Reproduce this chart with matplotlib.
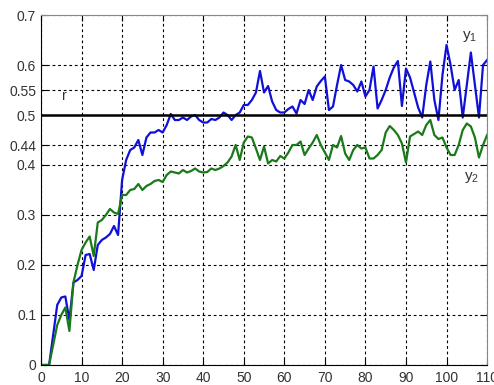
import matplotlib
matplotlib.use('Agg')
import matplotlib.pyplot as plt

plt.rcParams['font.family'] = ['Liberation Sans', 'DejaVu Sans']
plt.rcParams['mathtext.fontset'] = 'custom'
plt.rcParams['mathtext.rm'] = 'Liberation Sans'

# time steps
t = list(range(0, 111))

# output y1 (blue)
y1 = [0, 0, 0, 0.06, 0.12, 0.135, 0.137, 0.09, 0.165, 0.17,
      0.178, 0.22, 0.222, 0.19, 0.24, 0.25, 0.255, 0.262, 0.278, 0.26,
      0.37, 0.41, 0.43, 0.435, 0.45, 0.42, 0.455, 0.465, 0.465, 0.47,
      0.465, 0.48, 0.502, 0.49, 0.49, 0.495, 0.49, 0.497, 0.5, 0.49,
      0.485, 0.485, 0.492, 0.49, 0.495, 0.505, 0.5, 0.49, 0.5, 0.505,
      0.52, 0.52, 0.53, 0.545, 0.588, 0.545, 0.558, 0.527, 0.51, 0.505,
      0.505, 0.512, 0.517, 0.503, 0.53, 0.522, 0.55, 0.53, 0.557, 0.568,
      0.577, 0.51, 0.517, 0.56, 0.6, 0.57, 0.567, 0.56, 0.547, 0.567,
      0.537, 0.55, 0.597, 0.513, 0.53, 0.55, 0.575, 0.595, 0.608, 0.518,
      0.593, 0.575, 0.545, 0.515, 0.495, 0.56, 0.607, 0.53, 0.49, 0.58,
      0.64, 0.6, 0.55, 0.57, 0.495, 0.56, 0.625, 0.56, 0.495, 0.6,
      0.61]

# output y2 (green)
y2 = [0, 0, 0, 0.04, 0.08, 0.1, 0.115, 0.068, 0.165, 0.2,
      0.23, 0.245, 0.257, 0.218, 0.285, 0.29, 0.3, 0.312, 0.305, 0.302,
      0.34, 0.34, 0.35, 0.352, 0.362, 0.35, 0.358, 0.362, 0.368, 0.37,
      0.366, 0.38, 0.387, 0.385, 0.383, 0.39, 0.385, 0.388, 0.393, 0.387,
      0.385, 0.386, 0.393, 0.39, 0.393, 0.398, 0.405, 0.417, 0.44, 0.41,
      0.445, 0.457, 0.455, 0.433, 0.41, 0.437, 0.403, 0.41, 0.407, 0.418,
      0.413, 0.425, 0.44, 0.44, 0.447, 0.42, 0.433, 0.445, 0.46, 0.44,
      0.425, 0.41, 0.44, 0.435, 0.458, 0.423, 0.41, 0.43, 0.44, 0.433,
      0.435, 0.413, 0.413, 0.42, 0.43, 0.465, 0.478, 0.47, 0.46, 0.443,
      0.405, 0.457, 0.462, 0.467, 0.46, 0.48, 0.49, 0.46, 0.452, 0.455,
      0.435, 0.42, 0.42, 0.44, 0.47, 0.483, 0.477, 0.455, 0.415, 0.44,
      0.46]

# reference level
r = 0.5

xticks = [0, 10, 20, 30, 40, 50, 60, 70, 80, 90, 100, 110]
yticks = [0, 0.1, 0.2, 0.3, 0.4, 0.44, 0.5, 0.55, 0.6, 0.7]
ylabels = ['0', '0.1', '0.2', '0.3', '0.4', '0.44', '0.5', '0.55', '0.6', '0.7']

fig = plt.figure(figsize=(4.94, 3.85), dpi=100)
ax = fig.add_axes([0.083, 0.052, 0.903, 0.909])

ax.plot(t, y1, color='#1010d8', lw=1.6)
ax.plot(t, y2, color='#1a7a1a', lw=1.6)
ax.axhline(r, color='black', lw=1.8)

ax.set_xlim(0, 110)
ax.set_ylim(0, 0.7)
ax.set_xticks(xticks)
ax.set_yticks(yticks)
ax.set_yticklabels(ylabels)
ax.grid(True, color='black', linestyle=(0, (2.5, 2.5)), lw=0.8)
ax.tick_params(direction='in', top=True, right=True, labelsize=10,
               labelcolor='#333333', length=4, color='black')
ax.tick_params(axis='x', pad=4)

for side in ['top', 'right']:
    ax.spines[side].set_color('#888888')
for side in ['left', 'bottom']:
    ax.spines[side].set_color('black')

ax.text(5.2, 0.53, 'r', fontsize=10, color='#333333')
ax.text(103.8, 0.652, r'$\mathregular{y_1}$', fontsize=11, color='#333333')
ax.text(104.2, 0.37, r'$\mathregular{y_2}$', fontsize=11, color='#333333')

fig.savefig('out.png', dpi=100, facecolor='white')
